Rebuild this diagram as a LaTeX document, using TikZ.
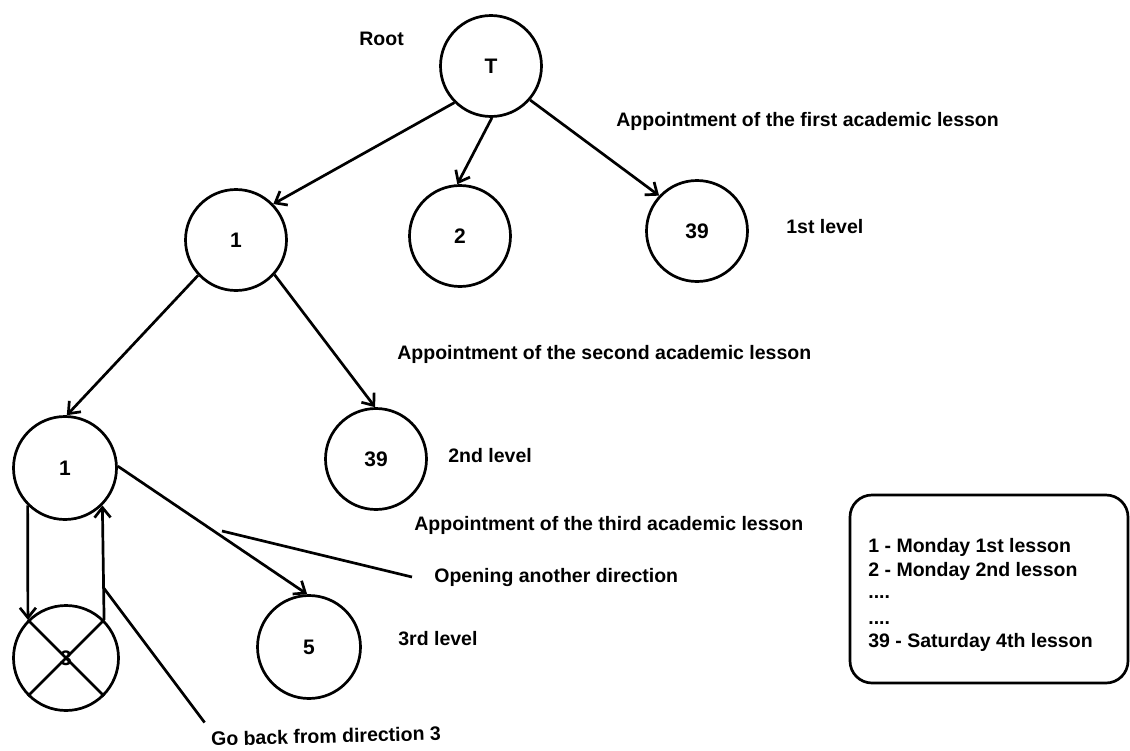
\documentclass[tikz,border=0pt]{standalone}
\usepackage{fontspec}
\setmainfont{Liberation Sans}
\usetikzlibrary{arrows.meta}
\begin{document}
\begin{tikzpicture}[x=1pt,y=-1pt,
  line width=2.7pt,
  every node/.style={font=\bfseries\fontsize{19.5}{23}\selectfont},
  vert/.style={draw, circle, minimum size=101pt, inner sep=0pt,
    font=\bfseries\fontsize{21}{23}\selectfont},
  lbl/.style={anchor=base west, inner sep=0pt},
  arr/.style={-{Straight Barb[length=10pt,width=16pt]}},
  legendbox/.style={draw, rounded corners=22pt, inner sep=0pt}
]
\useasboundingbox (0,0) rectangle (1130,750);

% tree vertices
\node[vert] (T)   at (491,66)  {T};
\node[vert] (a1)  at (236,240) {1};
\node[vert] (a2)  at (460,236) {2};
\node[vert] (a39) at (697,231) {39};
\node[vert, minimum size=103pt] (b1)  at (65,468)  {1};
\node[vert] (b39) at (376,459) {39};
\node[vert, minimum size=105pt] (c3)  at (66,658)  {3};
\node[vert, minimum size=103pt] (c5)  at (309,647) {5};

% the closed direction is crossed out
\draw (c3.45) -- (c3.225) (c3.135) -- (c3.-45);

% edges of the tree
\draw[arr] (T.225) -- (a1.44);
\draw[arr] (T.-89) -- (a2.93);
\draw[arr] (T.-41) -- (a39.137);
\draw[arr] (a1.223) -- (b1.88);
\draw[arr] (a1.-42) -- (b39.91);
\draw[arr] (b1.2) -- (c5.92);
\draw[arr] (b1.225) -- (c3.135);
\draw[arr] (c3.45) -- (b1.-45);

% labels
\node[lbl] (root)    at (358,45)  {Root};
\node[lbl] (appt1)   at (615,126) {Appointment of the first academic lesson};
\node[lbl] (lev1)    at (785,233) {1st level};
\node[lbl] (appt2)   at (396,359) {Appointment of the second academic lesson};
\node[lbl] (lev2)    at (447,462) {2nd level};
\node[lbl] (appt3)   at (413,530) {Appointment of the third academic lesson};
\node[lbl] (opening) at (433,582) {Opening another direction};
\node[lbl] (lev3)    at (397,645) {3rd level};
\node[lbl, rotate=1.5] (goback) at (210,746) {Go back from direction 3};

% leader lines to the callouts
\coordinate (opfoot) at (222,531);
\draw (opfoot) -- ([xshift=-21pt]opening.west);
\coordinate (gbfoot) at (103,587);
\draw (gbfoot) -- ([xshift=-5pt,yshift=8pt]goback.north west);

% legend
\node[legendbox, minimum width=278pt, minimum height=188pt] (legend) at (989,589) {};
\node[lbl] (leg1) at (867,552) {1 - Monday 1st lesson};
\node[lbl] (leg2) at (867,576) {2 - Monday 2nd lesson};
\node[lbl] (leg3) at (867,598) {....};
\node[lbl] (leg4) at (867,624) {....};
\node[lbl] (leg5) at (867,647) {39 - Saturday 4th lesson};
\end{tikzpicture}
\end{document}
